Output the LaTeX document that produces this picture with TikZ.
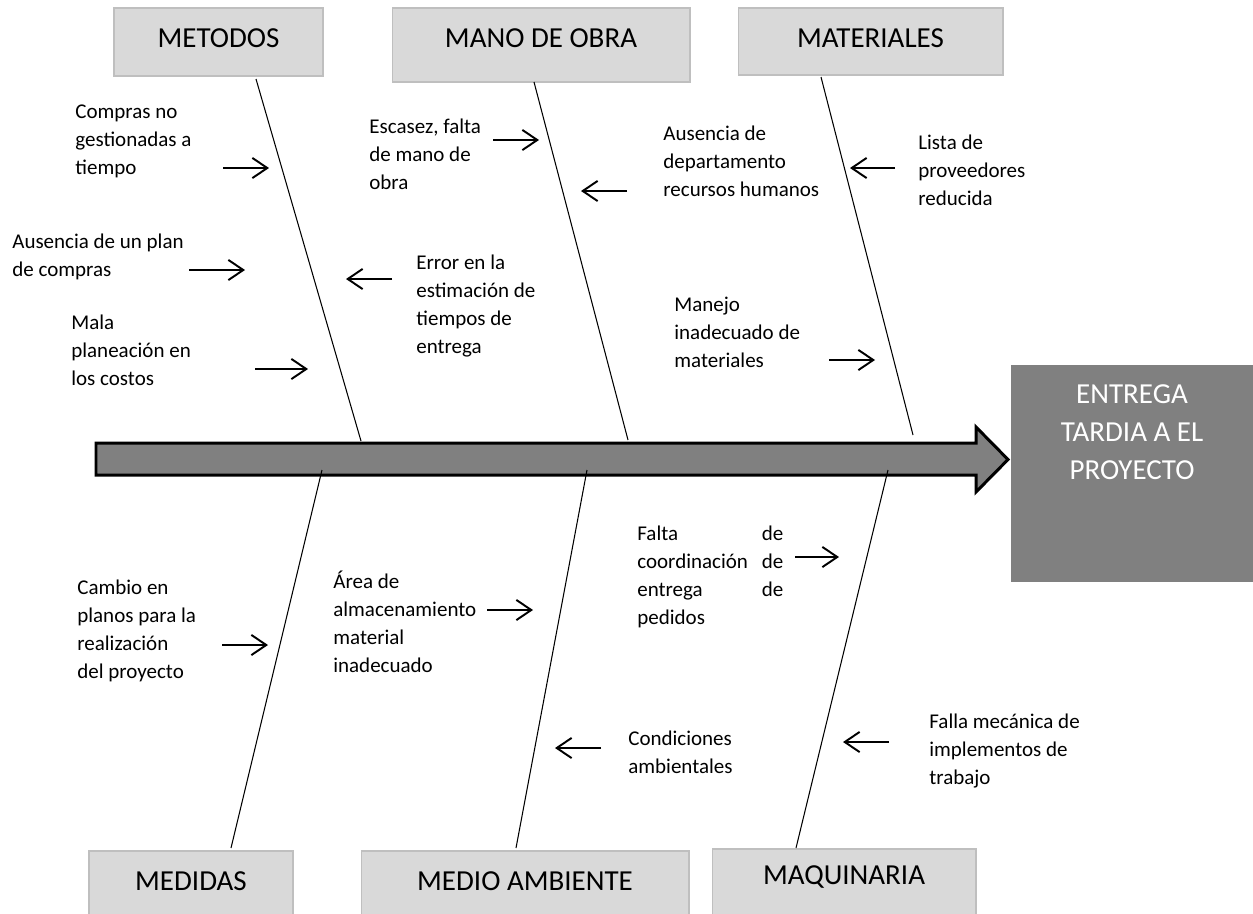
\documentclass[tikz,border=0pt]{standalone}
\usepackage{fontspec}
\setmainfont{Carlito}
\usetikzlibrary{arrows.meta,positioning}
\definecolor{boxgray}{HTML}{D9D9D9}
\definecolor{boxline}{HTML}{BFBFBF}
\definecolor{spinegray}{HTML}{808080}
\tikzset{
  cat/.style={draw=boxline,fill=boxgray,line width=0.6pt,inner sep=0pt},
  catlabel/.style={inner sep=0pt,font=\fontsize{16.5pt}{20pt}\selectfont},
  cause/.style={align=left,inner sep=0pt,anchor=north west,font=\fontsize{11.95pt}{15.9pt}\selectfont},
  push/.style={-{Straight Barb[length=8.5pt,width=11.5pt]},line width=1.1pt},
  bone/.style={line width=0.6pt}
}
\begin{document}
\begin{tikzpicture}[x=0.02cm,y=-0.02cm]
    \useasboundingbox (0,0) rectangle (1253,913);
    \draw[fill=spinegray,line width=1.7pt] (96,443) -- (976,443) -- (976,427) -- (1008,459.5)
        -- (976,492) -- (976,475) -- (96,475) -- cycle;

    \node[cat,minimum width=4.18cm,minimum height=1.36cm] (metodos) at (218.5,42) {};
    \node[cat,minimum width=5.96cm,minimum height=1.48cm] (mano) at (541,45) {};
    \node[cat,minimum width=5.3cm,minimum height=1.34cm] (materiales) at (870.5,41.5) {};
    \node[cat,minimum width=4.08cm,minimum height=1.28cm] (medidas) at (191,883) {};
    \node[cat,minimum width=6.56cm,minimum height=1.28cm] (medio) at (525,883) {};
    \node[cat,minimum width=5.28cm,minimum height=1.32cm] (maquinaria) at (844,882) {};
    \node[catlabel] (metodostxt) at (218.5,38) {METODOS};
    \node[catlabel] (manotxt) at (541,38) {MANO DE OBRA};
    \node[catlabel] (materialestxt) at (870.5,38) {MATERIALES};
    \node[catlabel] (medidastxt) at (191,881) {MEDIDAS};
    \node[catlabel] (mediotxt) at (525,881) {MEDIO AMBIENTE};
    \node[catlabel] (maquinariatxt) at (844,877) {MAQUINARIA};

    \node[fill=spinegray,minimum width=4.84cm,minimum height=4.34cm,inner sep=0pt] (goal) at (1132,473.5) {};
    \node[text=white,align=center,anchor=north,inner sep=0pt,font=\fontsize{16.5pt}{21.6pt}\selectfont]
        (goaltxt) at (1132,384) {ENTREGA\\TARDIA A EL\\PROYECTO};

    \coordinate (b1) at (256,79);  \coordinate (e1) at (361,441);
    \coordinate (b2) at (534,82);  \coordinate (e2) at (628,440);
    \coordinate (b3) at (821,77);  \coordinate (e3) at (913,435);
    \coordinate (b4) at (231,848); \coordinate (e4) at (322,470);
    \coordinate (b5) at (516,848); \coordinate (e5) at (587,470);
    \coordinate (b6) at (796,848); \coordinate (e6) at (888,470);
    \path[bone,draw] (b1) -- (e1) (b2) -- (e2) (b3) -- (e3)
        (b4) -- (e4) (b5) -- (e5) (b6) -- (e6);

    \node[cause] (compras) at (75,105) {Compras no\\gestionadas a\\tiempo};
    \node[cause] (plan) at (12,234) {Ausencia de un plan\\de compras};
    \node[cause] (costos) at (71,315) {Mala\\planeación en\\los costos};
    \node[cause] (error) at (416,255) {Error en la\\estimación de\\tiempos de\\entrega};
    \node[cause] (escasez) at (369,119) {Escasez, falta\\de mano de\\obra};
    \node[cause] (rrhh) at (663,126) {Ausencia de\\departamento\\recursos humanos};
    \node[cause] (lista) at (918,135) {Lista de\\proveedores\\reducida};
    \node[cause] (manejo) at (674,297) {Manejo\\inadecuado de\\materiales};
    \node[cause] (planos) at (77,580) {Cambio en\\planos para la\\realización\\del proyecto};
    \node[cause] (area) at (333,571) {Área de\\almacenamiento\\material\\inadecuado};
    \node[cause,text width=2.92cm] (falta) at (637,526) {Falta\hfill de\\coordinación\hfill de\\entrega\hfill de\\pedidos};
    \node[cause] (clima) at (628,731) {Condiciones\\ambientales};
    \node[cause] (falla) at (929,714) {Falla mecánica de\\implementos de\\trabajo};

    \coordinate (a1) at (223,168);  \coordinate (h1) at (269,168);
    \coordinate (a2) at (189,270);  \coordinate (h2) at (245,270);
    \coordinate (a3) at (255,369);  \coordinate (h3) at (308,369);
    \coordinate (a4) at (392,279);  \coordinate (h4) at (346,279);
    \coordinate (a5) at (493,140);  \coordinate (h5) at (539,140);
    \coordinate (a6) at (627,191);  \coordinate (h6) at (581,191);
    \coordinate (a7) at (895,168);  \coordinate (h7) at (850,168);
    \coordinate (a8) at (829,360);  \coordinate (h8) at (875,360);
    \coordinate (a9) at (222,645);  \coordinate (h9) at (268,645);
    \coordinate (a10) at (487,610); \coordinate (h10) at (533,610);
    \coordinate (a11) at (795,557); \coordinate (h11) at (839,557);
    \coordinate (a12) at (601,748); \coordinate (h12) at (555,748);
    \coordinate (a13) at (889,742); \coordinate (h13) at (843,742);
    \draw[push] (a1) -- (h1);
    \draw[push] (a2) -- (h2);
    \draw[push] (a3) -- (h3);
    \draw[push] (a4) -- (h4);
    \draw[push] (a5) -- (h5);
    \draw[push] (a6) -- (h6);
    \draw[push] (a7) -- (h7);
    \draw[push] (a8) -- (h8);
    \draw[push] (a9) -- (h9);
    \draw[push] (a10) -- (h10);
    \draw[push] (a11) -- (h11);
    \draw[push] (a12) -- (h12);
    \draw[push] (a13) -- (h13);
\end{tikzpicture}
\end{document}
